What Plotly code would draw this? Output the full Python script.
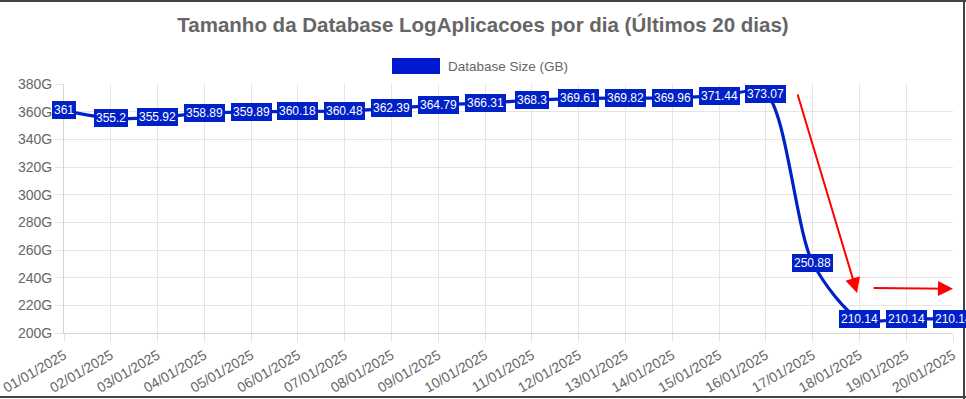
import plotly.graph_objects as go

dates = ["01/01/2025", "02/01/2025", "03/01/2025", "04/01/2025", "05/01/2025",
         "06/01/2025", "07/01/2025", "08/01/2025", "09/01/2025", "10/01/2025",
         "11/01/2025", "12/01/2025", "13/01/2025", "14/01/2025", "15/01/2025",
         "16/01/2025", "17/01/2025", "18/01/2025", "19/01/2025", "20/01/2025"]
sizes_gb = [361, 355.2, 355.92, 358.89, 359.89, 360.18, 360.48, 362.39, 364.79, 366.31,
            368.3, 369.61, 369.82, 369.96, 371.44, 373.07, 250.88, 210.14, 210.14, 210.14]
y_ticks = [200, 220, 240, 260, 280, 300, 320, 340, 360, 380]
series_name = "Database Size (GB)"
title_text = "Tamanho da Database LogAplicacoes por dia (Últimos 20 dias)"
# red hand-drawn arrows (start index, start value, end index, end value)
arrows = [(15.67, 373.5, 16.95, 229.0), (17.27, 232.5, 19.0, 232.0)]

BLUE = "#0020c8"
GRID = "#e5e5e5"
TXT = "#666666"
FONT = "Liberation Sans, Arial, sans-serif"

W, H = 966, 399
L, R, T, B = 64, 13, 84, 66
pw, ph = W - L - R, H - T - B


def px(xp):
    return (xp - L) / pw


def py(yp):
    return (H - B - yp) / ph


fig = go.Figure()
fig.add_trace(go.Scatter(
    x=list(range(len(dates))), y=sizes_gb, mode="lines", name=series_name,
    line=dict(color=BLUE, width=3.2, shape="spline", smoothing=0.8),
    showlegend=False, cliponaxis=False, hoverinfo="skip",
))

annotations = []
for i, v in enumerate(sizes_gb):
    annotations.append(dict(
        x=i, y=v, xref="x", yref="y", text=f"{v:g}", showarrow=False,
        font=dict(color="white", size=12, family=FONT),
        bgcolor=BLUE, bordercolor=BLUE, borderwidth=1, borderpad=1,
        xanchor="center", yanchor="middle",
    ))
for (x0, y0, x1, y1) in arrows:
    annotations.append(dict(
        x=x1, y=y1, ax=x0, ay=y0, xref="x", yref="y", axref="x", ayref="y",
        text="", showarrow=True, arrowhead=2, arrowsize=1.5, arrowwidth=2,
        arrowcolor="#ff0000",
    ))
# legend text
annotations.append(dict(
    x=px(446), y=py(66), xref="paper", yref="paper", text=series_name,
    showarrow=False, xanchor="left", yanchor="middle",
    font=dict(color=TXT, size=13.5, family=FONT),
))

shapes = [
    # legend box
    dict(type="rect", xref="paper", yref="paper", x0=px(392), x1=px(440),
         y0=py(74), y1=py(58), fillcolor="#0019cc", line=dict(width=0)),
    # frame
    dict(type="line", xref="paper", yref="paper", x0=px(0), x1=px(966),
         y0=py(1), y1=py(1), line=dict(color="#444444", width=2)),
    dict(type="line", xref="paper", yref="paper", x0=px(964), x1=px(964),
         y0=py(0), y1=py(399), line=dict(color="#444444", width=2)),
    dict(type="line", xref="paper", yref="paper", x0=px(0), x1=px(966),
         y0=py(397), y1=py(397), line=dict(color="#444444", width=2)),
]

fig.update_layout(
    width=W, height=H,
    margin=dict(l=L, r=R, t=T, b=B, autoexpand=False),
    paper_bgcolor="white", plot_bgcolor="white",
    font=dict(family=FONT, color=TXT),
    title=dict(text=title_text, x=0.5, xref="container", xanchor="center",
               y=1 - 25 / H, yref="container", yanchor="middle",
               font=dict(size=20.5, color=TXT, family=FONT, weight="bold")),
    showlegend=False,
    hovermode=False,
    annotations=annotations,
    shapes=shapes,
)
fig.update_xaxes(
    tickmode="array", tickvals=list(range(len(dates))), ticktext=dates,
    range=[0, len(dates) - 1], tickangle=-30, automargin=False,
    showgrid=True, gridcolor=GRID, gridwidth=1,
    showline=True, linecolor="#d4d4d4", linewidth=1,
    ticks="outside", ticklen=8, tickcolor=GRID,
    tickfont=dict(size=14, color=TXT, family=FONT), zeroline=False,
)
fig.update_yaxes(
    tickmode="array", tickvals=y_ticks, ticktext=[f"{t}G" for t in y_ticks],
    range=[200, 380], automargin=False,
    showgrid=True, gridcolor=GRID, gridwidth=1,
    showline=True, linecolor="#d4d4d4", linewidth=1,
    ticks="outside", ticklen=8, tickcolor=GRID,
    tickfont=dict(size=14, color=TXT, family=FONT), zeroline=False,
)

fig.write_html("out.html", config={"displayModeBar": False},
               post_script="document.body.style.margin='0';")
